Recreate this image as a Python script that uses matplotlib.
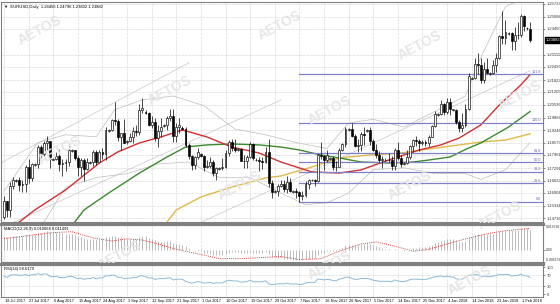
import numpy as np
import matplotlib
matplotlib.use("Agg")
import matplotlib.pyplot as plt
from matplotlib.lines import Line2D

# EURUSD daily bars, 18 Jul 2017 .. 5 Feb 2018 (Sunday bars included)
opens = [1.1475, 1.1557, 1.1515, 1.1634, 1.1662, 1.1666, 1.1643, 1.1648, 1.1733, 1.1677,
         1.1745, 1.1750, 1.1839, 1.1801, 1.1857, 1.1869, 1.1770, 1.1775, 1.1792, 1.1752,
         1.1757, 1.1762, 1.1818, 1.1820, 1.1779, 1.1734, 1.1771, 1.1724, 1.1755, 1.1760,
         1.1813, 1.1762, 1.1812, 1.1800, 1.1920, 1.1925, 1.1978, 1.1970, 1.1889, 1.1908,
         1.1862, 1.1868, 1.1888, 1.1918, 1.1916, 1.2027, 1.2020, 1.2010, 1.1952, 1.1966,
         1.1886, 1.1921, 1.1945, 1.1950, 1.1985, 1.1996, 1.1893, 1.1940, 1.1935, 1.1930,
         1.1848, 1.1792, 1.1747, 1.1784, 1.1800, 1.1790, 1.1732, 1.1738, 1.1760, 1.1705,
         1.1725, 1.1728, 1.1736, 1.1806, 1.1861, 1.1834, 1.1820, 1.1825, 1.1765, 1.1763,
         1.1787, 1.1851, 1.1770, 1.1772, 1.1764, 1.1762, 1.1811, 1.1654, 1.1605, 1.1610,
         1.1634, 1.1646, 1.1620, 1.1657, 1.1608, 1.1612, 1.1608, 1.1585, 1.1590, 1.1648,
         1.1665, 1.1668, 1.1664, 1.1798, 1.1793, 1.1770, 1.1775, 1.1780, 1.1734, 1.1736,
         1.1824, 1.1852, 1.1925, 1.1930, 1.1894, 1.1844, 1.1845, 1.1905, 1.1920, 1.1925,
         1.1866, 1.1823, 1.1797, 1.1772, 1.1770, 1.1772, 1.1770, 1.1741, 1.1823, 1.1780,
         1.1750, 1.1755, 1.1785, 1.1840, 1.1874, 1.1870, 1.1857, 1.1863, 1.1860, 1.1891,
         1.1943, 1.2000, 1.2005, 1.2059, 1.2016, 1.2068, 1.2030, 1.2030, 1.1967, 1.1937,
         1.1950, 1.2035, 1.2190, 1.2195, 1.2265, 1.2262, 1.2180, 1.2238, 1.2215, 1.2220,
         1.2260, 1.2297, 1.2411, 1.2398, 1.2420, 1.2425, 1.2381, 1.2413, 1.2414, 1.2511,
         1.2450, 1.24456]
highs = [1.1583, 1.1561, 1.1658, 1.1683, 1.1672, 1.1684, 1.1668, 1.1745, 1.1777, 1.1753,
         1.1755, 1.1846, 1.1846, 1.1868, 1.1892, 1.1870, 1.1780, 1.1812, 1.1828, 1.1778,
         1.1775, 1.1845, 1.1825, 1.1824, 1.1790, 1.1779, 1.1780, 1.1780, 1.1765, 1.1822,
         1.1821, 1.1823, 1.1830, 1.1940, 1.1930, 1.1983, 1.2070, 1.1983, 1.1911, 1.1980,
         1.1872, 1.1911, 1.1939, 1.1953, 1.2057, 1.2092, 1.2030, 1.2020, 1.1995, 1.1985,
         1.1948, 1.1988, 1.1955, 1.1995, 1.2034, 1.2035, 1.1960, 1.1985, 1.1945, 1.1938,
         1.1859, 1.1796, 1.1792, 1.1833, 1.1805, 1.1795, 1.1772, 1.1787, 1.1771, 1.1735,
         1.1735, 1.1783, 1.1820, 1.1875, 1.1880, 1.1878, 1.1830, 1.1834, 1.1798, 1.1794,
         1.1861, 1.1858, 1.1780, 1.1785, 1.1785, 1.1837, 1.1880, 1.1667, 1.1615, 1.1646,
         1.1669, 1.1667, 1.1688, 1.1679, 1.1615, 1.1626, 1.1611, 1.1610, 1.1660, 1.1671,
         1.1672, 1.1675, 1.1801, 1.1861, 1.1798, 1.1821, 1.1785, 1.1790, 1.1764, 1.1834,
         1.1859, 1.1938, 1.1935, 1.1961, 1.1903, 1.1881, 1.1917, 1.1939, 1.1930, 1.1940,
         1.1877, 1.1851, 1.1816, 1.1792, 1.1780, 1.1804, 1.1790, 1.1830, 1.1863, 1.1797,
         1.1760, 1.1822, 1.1847, 1.1880, 1.1893, 1.1880, 1.1872, 1.1875, 1.1899, 1.1948,
         1.2023, 1.2010, 1.2081, 1.2065, 1.2089, 1.2090, 1.2035, 1.2032, 1.1975, 1.2013,
         1.2059, 1.2218, 1.2200, 1.2297, 1.2323, 1.2296, 1.2277, 1.2297, 1.2225, 1.2284,
         1.2323, 1.2414, 1.2537, 1.2493, 1.2430, 1.2429, 1.2453, 1.2480, 1.2523, 1.2519,
         1.2455, 1.24796]
lows = [1.1466, 1.1479, 1.1479, 1.1621, 1.1658, 1.1612, 1.1605, 1.1608, 1.1653, 1.1664,
        1.1740, 1.1727, 1.1780, 1.1791, 1.1823, 1.1728, 1.1768, 1.1770, 1.1712, 1.1688,
        1.1716, 1.1741, 1.1814, 1.1768, 1.1687, 1.1690, 1.1662, 1.1718, 1.1752, 1.1738,
        1.1744, 1.1759, 1.1778, 1.1772, 1.1916, 1.1922, 1.1951, 1.1868, 1.1823, 1.1858,
        1.1855, 1.1863, 1.1859, 1.1896, 1.1900, 1.2012, 1.2005, 1.1945, 1.1935, 1.1869,
        1.1837, 1.1888, 1.1940, 1.1925, 1.1970, 1.1861, 1.1862, 1.1910, 1.1925, 1.1838,
        1.1776, 1.1717, 1.1722, 1.1773, 1.1785, 1.1716, 1.1728, 1.1730, 1.1688, 1.1668,
        1.1720, 1.1718, 1.1730, 1.1790, 1.1815, 1.1810, 1.1815, 1.1763, 1.1730, 1.1728,
        1.1782, 1.1770, 1.1765, 1.1716, 1.1725, 1.1756, 1.1633, 1.1573, 1.1600, 1.1587,
        1.1629, 1.1603, 1.1602, 1.1603, 1.1602, 1.1576, 1.1554, 1.1565, 1.1582, 1.1622,
        1.1660, 1.1634, 1.1655, 1.1773, 1.1719, 1.1762, 1.1770, 1.1721, 1.1715, 1.1732,
        1.1818, 1.1838, 1.1920, 1.1887, 1.1839, 1.1812, 1.1818, 1.1848, 1.1915, 1.1845,
        1.1815, 1.1780, 1.1758, 1.1729, 1.1765, 1.1760, 1.1717, 1.1718, 1.1772, 1.1734,
        1.1745, 1.1750, 1.1774, 1.1813, 1.1843, 1.1818, 1.1850, 1.1844, 1.1842, 1.1888,
        1.1939, 1.1995, 1.2002, 1.2003, 1.2005, 1.2004, 1.2025, 1.1955, 1.1917, 1.1915,
        1.1940, 1.2027, 1.2185, 1.2190, 1.2212, 1.2165, 1.2166, 1.2218, 1.2210, 1.2214,
        1.2225, 1.2288, 1.2367, 1.2370, 1.2415, 1.2337, 1.2335, 1.2393, 1.2405, 1.2436,
        1.2440, 1.23802]
closes = [1.1557, 1.1515, 1.1634, 1.1666, 1.1666, 1.1643, 1.1648, 1.1733, 1.1677, 1.1750,
          1.1750, 1.1839, 1.1801, 1.1857, 1.1869, 1.1774, 1.1775, 1.1792, 1.1752, 1.1757,
          1.1762, 1.1822, 1.1820, 1.1779, 1.1734, 1.1771, 1.1724, 1.1760, 1.1760, 1.1813,
          1.1762, 1.1812, 1.1800, 1.1924, 1.1925, 1.1978, 1.1970, 1.1889, 1.1908, 1.1860,
          1.1868, 1.1888, 1.1918, 1.1916, 1.2027, 1.2036, 1.2010, 1.1952, 1.1966, 1.1886,
          1.1921, 1.1941, 1.1950, 1.1985, 1.1996, 1.1893, 1.1940, 1.1950, 1.1930, 1.1848,
          1.1792, 1.1747, 1.1784, 1.1814, 1.1790, 1.1732, 1.1738, 1.1760, 1.1705, 1.1731,
          1.1728, 1.1736, 1.1806, 1.1861, 1.1834, 1.1822, 1.1825, 1.1765, 1.1763, 1.1787,
          1.1851, 1.1781, 1.1772, 1.1764, 1.1762, 1.1811, 1.1654, 1.1608, 1.1610, 1.1634,
          1.1646, 1.1620, 1.1657, 1.1609, 1.1612, 1.1608, 1.1585, 1.1590, 1.1648, 1.1665,
          1.1668, 1.1664, 1.1798, 1.1793, 1.1770, 1.1794, 1.1780, 1.1734, 1.1736, 1.1824,
          1.1852, 1.1930, 1.1930, 1.1894, 1.1844, 1.1845, 1.1905, 1.1899, 1.1925, 1.1866,
          1.1823, 1.1797, 1.1772, 1.1774, 1.1772, 1.1770, 1.1741, 1.1823, 1.1780, 1.1750,
          1.1755, 1.1785, 1.1840, 1.1874, 1.1870, 1.1857, 1.1863, 1.1860, 1.1891, 1.1943,
          1.2005, 1.2005, 1.2059, 1.2016, 1.2068, 1.2031, 1.2030, 1.1967, 1.1937, 1.1950,
          1.2035, 1.2201, 1.2195, 1.2265, 1.2262, 1.2180, 1.2238, 1.2220, 1.2220, 1.2260,
          1.2297, 1.2411, 1.2398, 1.2427, 1.2425, 1.2381, 1.2413, 1.2414, 1.2511, 1.2460,
          1.2450, 1.23882]

date_labels = ["18 Jul 2017", "27 Jul 2017", "6 Aug 2017", "15 Aug 2017", "24 Aug 2017",
               "3 Sep 2017", "12 Sep 2017", "21 Sep 2017", "1 Oct 2017", "10 Oct 2017",
               "19 Oct 2017", "29 Oct 2017", "7 Nov 2017", "16 Nov 2017", "26 Nov 2017",
               "5 Dec 2017", "14 Dec 2017", "25 Dec 2017", "4 Jan 2018", "14 Jan 2018",
               "23 Jan 2018", "1 Feb 2018"]
price_ticks = [1.25737, 1.25068, 1.24450, 1.23111, 1.22493, 1.21823, 1.21205, 1.20536,
               1.19866, 1.19248, 1.18579, 1.17961, 1.17291, 1.16622, 1.16004, 1.15334, 1.14716]

# moving averages: (bar, price)
ma_fast = [(5, 1.1451), (10, 1.1513), (20, 1.1616), (31, 1.1755), (37, 1.1812), (44, 1.1858),
           (51, 1.1889), (58, 1.1925), (66, 1.1889), (74, 1.1837), (83, 1.1806), (90, 1.1760),
           (100, 1.1709), (109, 1.1703), (116, 1.1719), (125, 1.1770), (135, 1.1822),
           (142, 1.1848), (148, 1.1884), (155, 1.1951), (161, 1.2054), (168, 1.2157), (171, 1.2210)]
ma_mid = [(23, 1.1451), (26, 1.1513), (34, 1.1600), (44, 1.1703), (53, 1.1786), (59, 1.1837),
          (66, 1.1848), (74, 1.1853), (83, 1.1848), (90, 1.1837), (96, 1.1822), (103, 1.1796),
          (109, 1.1781), (116, 1.1760), (125, 1.1755), (133, 1.1760), (138, 1.1770),
          (145, 1.1786), (151, 1.1832), (155, 1.1858), (164, 1.1940), (171, 1.2020)]
ma_slow = [(53, 1.1451), (56, 1.1513), (64, 1.1580), (74, 1.1631), (85, 1.1678), (90, 1.1688),
           (100, 1.1734), (109, 1.1781), (119, 1.1796), (129, 1.1806), (138, 1.1827),
           (148, 1.1848), (155, 1.1863), (163, 1.1873), (171, 1.1905)]
bb_upper = [(0, 1.1610), (11, 1.1860), (20, 1.1900), (30, 1.1890), (36, 1.2030), (45, 1.2080),
            (55, 1.2100), (65, 1.2050), (75, 1.1930), (85, 1.1900), (95, 1.1860), (105, 1.1830),
            (112, 1.1960), (120, 1.1980), (130, 1.1940), (140, 1.2020), (150, 1.2100),
            (155, 1.2300), (163, 1.2560), (171, 1.2620)]
bb_lower = [(11, 1.1400), (20, 1.1630), (30, 1.1680), (40, 1.1700), (50, 1.1750), (60, 1.1760),
            (70, 1.1680), (80, 1.1680), (90, 1.1600), (98, 1.1540), (105, 1.1550), (112, 1.1600),
            (120, 1.1720), (130, 1.1730), (140, 1.1700), (150, 1.1700), (155, 1.1670),
            (163, 1.1720), (171, 1.1860)]
channel = [((-1, 1.1755), (60, 1.2270)), ((-1, 1.1420), (90, 1.2079)), ((60, 1.1420), (171, 1.2230))]

fib_low, fib_high, fib_start = 1.1554, 1.1961, 96
fib_levels = [0.0, 23.6, 38.2, 50.0, 61.8, 100.0, 161.8]

macd_main = [0.0068, 0.0068, 0.0070, 0.0073, 0.0074, 0.0075, 0.0076, 0.0080, 0.0081, 0.0083,
             0.0084, 0.0090, 0.0092, 0.0096, 0.0099, 0.0096, 0.0096, 0.0097, 0.0095, 0.0091,
             0.0087, 0.0088, 0.0087, 0.0083, 0.0076, 0.0072, 0.0066, 0.0062, 0.0060, 0.0061,
             0.0060, 0.0061, 0.0060, 0.0068, 0.0069, 0.0075, 0.0076, 0.0070, 0.0068, 0.0063,
             0.0062, 0.0061, 0.0062, 0.0061, 0.0070, 0.0075, 0.0073, 0.0066, 0.0061, 0.0052,
             0.0048, 0.0046, 0.0045, 0.0047, 0.0047, 0.0038, 0.0035, 0.0033, 0.0030, 0.0022,
             0.0013, 0.0003, -0.0002, -0.0004, -0.0006, -0.0012, -0.0016, -0.0018, -0.0024, -0.0026,
             -0.0027, -0.0026, -0.0020, -0.0012, -0.0010, -0.0009, -0.0009, -0.0013, -0.0016, -0.0016,
             -0.0010, -0.0012, -0.0013, -0.0014, -0.0015, -0.0010, -0.0022, -0.0034, -0.0035, -0.0040,
             -0.0042, -0.0045, -0.0045, -0.0048, -0.0049, -0.0050, -0.0052, -0.0052, -0.0048, -0.0044,
             -0.0043, -0.0041, -0.0026, -0.0016, -0.0012, -0.0006, -0.0006, -0.0006, -0.0004, 0.0006,
             0.0014, 0.0026, 0.0026, 0.0030, 0.0030, 0.0030, 0.0034, 0.0034, 0.0036, 0.0034,
             0.0028, 0.0022, 0.0015, 0.0010, 0.0008, 0.0006, 0.0002, 0.0006, 0.0004, -0.0001,
             -0.0003, -0.0001, 0.0004, 0.0010, 0.0013, 0.0015, 0.0016, 0.0017, 0.0020, 0.0027,
             0.0037, 0.0042, 0.0050, 0.0052, 0.0057, 0.0058, 0.0058, 0.0053, 0.0046, 0.0043,
             0.0048, 0.0065, 0.0070, 0.0081, 0.0088, 0.0085, 0.0087, 0.0086, 0.0085, 0.0087,
             0.0090, 0.0100, 0.0104, 0.0108, 0.0108, 0.0106, 0.0108, 0.0108, 0.0116, 0.0117,
             0.0116, 0.0105]
macd_signal = [(0, 0.0062), (5, 0.0071), (15, 0.0092), (22, 0.0098), (29, 0.0065), (35, 0.0049),
               (40, 0.0060), (45, 0.0054), (50, 0.0033), (56, 0.0005), (64, -0.0022), (70, -0.0044),
               (77, -0.0044), (84, -0.0038), (90, -0.0033), (96, -0.0049), (103, -0.0044),
               (109, -0.0005), (116, 0.0033), (121, 0.0044), (127, 0.0022), (133, -0.0005),
               (138, 0.0005), (144, 0.0033), (150, 0.0060), (157, 0.0087), (163, 0.0103),
               (170, 0.0114), (171, 0.0114)]
rsi = [68, 62, 70, 72, 72, 70, 70, 73, 69, 72, 72, 76, 73, 75, 75, 65, 65, 66, 62, 62,
       62, 66, 66, 62, 57, 60, 55, 58, 58, 62, 57, 61, 60, 68, 68, 71, 70, 62, 63, 58,
       59, 60, 62, 61, 68, 68, 65, 60, 61, 55, 57, 58, 58, 60, 61, 53, 55, 56, 55, 48,
       44, 41, 44, 47, 45, 41, 42, 44, 40, 42, 42, 42, 48, 52, 50, 49, 49, 45, 45, 47,
       52, 46, 46, 46, 46, 50, 39, 36, 37, 38, 39, 38, 41, 38, 38, 38, 36, 37, 42, 44,
       44, 44, 56, 55, 53, 55, 54, 50, 50, 56, 58, 63, 63, 59, 55, 55, 59, 58, 59, 56,
       52, 50, 48, 48, 48, 48, 46, 53, 49, 47, 47, 50, 54, 56, 56, 55, 55, 55, 57, 61,
       65, 65, 68, 64, 67, 64, 64, 57, 55, 56, 62, 70, 70, 73, 72, 64, 67, 65, 65, 67,
       69, 74, 72, 73, 73, 67, 69, 69, 74, 68, 68, 62]

watermarks = [(40, 30), (170, 90), (280, 25), (420, 45), (520, 95), (60, 150), (330, 110),
              (240, 185), (410, 185), (500, 215), (120, 255), (330, 265), (470, 280)]

W, H = 560, 304
GRID = "#c8c8c8"
FS = 3.0
plt.rcParams["font.family"] = ["Liberation Sans", "DejaVu Sans"]


def rect(x0, y0, x1, y1):
    return [x0 / W, 1 - y1 / H, (x1 - x0) / W, (y1 - y0) / H]


fig = plt.figure(figsize=(W / 100, H / 100), dpi=100)
fig.patch.set_facecolor("white")

ax = fig.add_axes(rect(1, 2, 543, 222))
ax_m = fig.add_axes(rect(1, 225, 543, 262), sharex=ax)
ax_r = fig.add_axes(rect(1, 265, 543, 297), sharex=ax)

n = len(closes)
idx = np.arange(n)
xlim = (-0.98, 175.2)
label_idx = np.arange(0, 8 * len(date_labels), 8)

for a in (ax, ax_m, ax_r):
    a.set_xlim(*xlim)
    a.set_xticks(label_idx)
    a.tick_params(axis="x", length=0, labelbottom=False)
    a.grid(True, axis="x", color=GRID, lw=0.5, ls=(0, (1, 1)))
    for s in a.spines.values():
        s.set_color("#808080")
        s.set_linewidth(0.8)
    a.yaxis.tick_right()
    a.tick_params(axis="y", labelsize=FS, length=1.5, width=0.4, pad=1.0, colors="#333333")

# watermark
for (wx, wy) in watermarks:
    fig.text(wx / W, 1 - wy / H, "AETOS", rotation=28, fontsize=10, fontweight="bold",
             color="#e6e6e6", ha="center", va="center", zorder=0)
for a in (ax, ax_m, ax_r):
    a.set_facecolor("none")

# ---- main panel
ax.set_ylim(1.1451, 1.2584)
ax.set_yticks(price_ticks)
ax.set_yticklabels([f"{t:.5f}" for t in price_ticks])
ax.grid(True, axis="y", color=GRID, lw=0.5, ls=(0, (1, 1)))

for (p0, p1) in channel:
    ax.plot([p0[0], p1[0]], [p0[1], p1[1]], color="#d0d0d0", lw=0.6, zorder=1)
for band in (bb_upper, bb_lower):
    bx, by = zip(*band)
    ax.plot(bx, by, color="#bdbdbd", lw=0.5, zorder=1)
for line, col in ((ma_slow, "#e0b84a"), (ma_mid, "#3c8a2e"), (ma_fast, "#d03030")):
    lx, ly = zip(*line)
    ax.plot(lx, ly, color=col, lw=1.0, zorder=2)

rng = fib_high - fib_low
for lv in fib_levels:
    py = fib_low + rng * lv / 100
    ax.plot([fib_start, xlim[1]], [py, py], color="#8080c8", lw=0.9, zorder=2)
    ax.text(174.6, py + 0.0003, f"{lv:.1f}", color="#6060b0", fontsize=FS - 0.3,
            ha="right", va="bottom", zorder=3)

o = np.array(opens); c = np.array(closes); hi = np.array(highs); lo = np.array(lows)
ax.vlines(idx, lo, hi, color="black", lw=0.5, zorder=3)
up = c >= o
body_b = np.minimum(o, c)
body_h = np.maximum(np.abs(c - o), 0.00008)
ax.bar(idx[up], body_h[up], bottom=body_b[up], width=0.62, color="white",
       edgecolor="black", lw=0.45, zorder=4)
ax.bar(idx[~up], body_h[~up], bottom=body_b[~up], width=0.62, color="black",
       edgecolor="black", lw=0.45, zorder=4)

ax.text(0.006, 0.985, "\u25bc  EURUSD,Daily  1.24456 1.24796 1.23802 1.23882",
        transform=ax.transAxes, fontsize=FS, va="top", ha="left", color="black")
# current price marker
ax.annotate("1.23882", xy=(1.0, closes[-1]), xycoords=("axes fraction", "data"),
            xytext=(2, 0), textcoords="offset points", fontsize=FS, color="white",
            va="center", ha="left",
            bbox=dict(boxstyle="square,pad=0.2", fc="black", ec="black"), annotation_clip=False)

# ---- MACD
ax_m.set_ylim(-0.006173, 0.013318)
ax_m.set_yticks([0.013318, 0.0, -0.006173])
ax_m.set_yticklabels(["0.013318", "0.00", "-0.006173"], fontsize=FS - 0.6)
ax_m.tick_params(axis="y", pad=0.6)
for lab, va in zip(ax_m.get_yticklabels(), ("top", "center", "bottom")):
    lab.set_va(va)
ax_m.vlines(idx, 0, macd_main, color="#a0a0a0", lw=0.5)
sx, sy = zip(*macd_signal)
ax_m.plot(sx, sy, color="#d04040", lw=0.7, ls=(0, (1, 1.2)))
ax_m.text(0.006, 0.95, "MACD(12,26,9) 0.010068 0.011491", transform=ax_m.transAxes,
          fontsize=FS, va="top", ha="left")

# ---- RSI
ax_r.set_ylim(-10, 108)
ax_r.set_yticks([100, 70, 30, 0])
ax_r.set_yticklabels(["100", "70", "30", "0"])
ax_r.axhline(70, color=GRID, lw=0.5, ls=(0, (1, 1)))
ax_r.axhline(30, color=GRID, lw=0.5, ls=(0, (1, 1)))
ax_r.plot(idx, rsi, color="#8cbadb", lw=0.7)
ax_r.text(0.006, 0.95, "RSI(14) 58.6179", transform=ax_r.transAxes,
          fontsize=FS, va="top", ha="left")

# date labels
for i, lab in zip(label_idx, date_labels):
    ax_r.annotate(lab, xy=(i, 0), xycoords=("data", "axes fraction"), xytext=(0.5, -1.5),
                  textcoords="offset points", fontsize=FS - 0.2, ha="left", va="top",
                  annotation_clip=False)

# window separators
for yy in (223.5, 263.5):
    fig.add_artist(Line2D([0, 543 / W], [1 - yy / H] * 2, color="#808080", lw=2.2))

fig.savefig("out.png", dpi=100)
